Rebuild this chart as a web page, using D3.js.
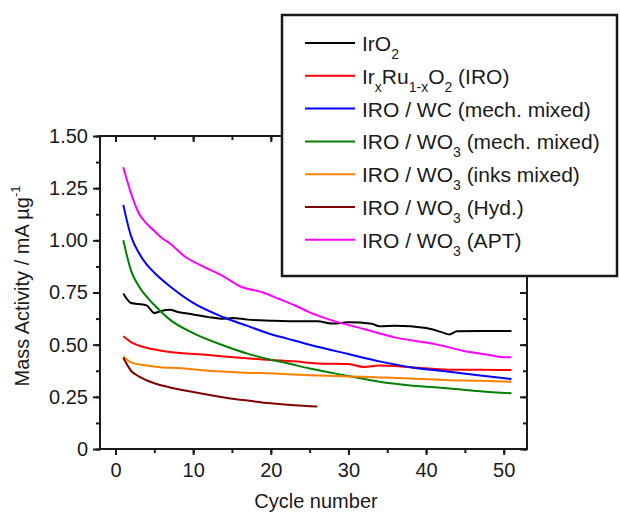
<!DOCTYPE html>
<html>
<head>
<meta charset="utf-8">
<script src="https://cdn.jsdelivr.net/npm/d3@7"></script>
<style>
  body { margin: 0; background: #fff; }
  svg text { font-family: "Liberation Sans", Arial, sans-serif; fill: #1a1a1a; }
</style>
</head>
<body>
<div id="chart"></div>
<script>
// values: [cycle, mass activity]
const IRO2 = [[1,0.745],[2,0.70],[3,0.695],[4,0.688],[5,0.652],[6,0.663],[7,0.667],[8,0.657],[10,0.645],[12,0.632],[14,0.624],[15,0.628],[17,0.62],[20,0.615],[23,0.612],[26,0.612],[28,0.601],[30,0.607],[33,0.6],[34,0.588],[36,0.591],[40,0.58],[42,0.56],[43,0.549],[44,0.564],[47,0.565],[51,0.565]];
const IRO = [[1,0.54],[2,0.512],[4,0.485],[7,0.465],[12,0.45],[14,0.443],[16,0.437],[20,0.427],[23,0.42],[26,0.41],[30,0.407],[32,0.393],[34,0.4],[38,0.392],[43,0.38],[47,0.38],[51,0.378]];
const IRO_WC = [[1,1.17],[2,1.02],[3,0.94],[4,0.885],[5,0.845],[7,0.78],[10,0.7],[14,0.63],[17,0.59],[20,0.55],[22,0.53],[25,0.5],[30,0.455],[34,0.42],[38,0.392],[43,0.37],[47,0.352],[51,0.336]];
const IRO_WO3_MECH = [[1,1.0],[2,0.855],[3,0.78],[4,0.73],[5,0.69],[7,0.62],[10,0.555],[14,0.495],[17,0.457],[20,0.428],[22,0.412],[25,0.386],[30,0.35],[34,0.322],[38,0.304],[43,0.29],[47,0.277],[51,0.267]];
const IRO_WO3_INKS = [[1,0.443],[2,0.415],[4,0.4],[6,0.391],[8,0.388],[12,0.375],[16,0.367],[21,0.361],[25,0.354],[30,0.348],[34,0.343],[38,0.338],[43,0.33],[47,0.327],[51,0.322]];
const IRO_WO3_HYD = [[1,0.437],[2,0.375],[3,0.348],[5,0.315],[7,0.295],[10,0.273],[14,0.247],[17,0.232],[20,0.219],[23,0.21],[26,0.204]];
const IRO_WO3_APT = [[1,1.35],[2,1.225],[3,1.13],[4,1.08],[5,1.045],[6,1.01],[7,0.985],[9,0.92],[11,0.88],[14,0.825],[16,0.78],[19,0.75],[21,0.72],[23,0.69],[25,0.655],[28,0.615],[32,0.575],[36,0.535],[40,0.51],[43,0.487],[45,0.468],[48,0.452],[50,0.44],[51,0.44]];

// legend labels as [text, subscript] pieces
const SERIES = [
    {data: IRO2, color: "#000000", label: [["IrO", "2"]]},
    {data: IRO, color: "#ff0000", label: [["Ir", "x"], ["Ru", "1-x"], ["O", "2"], [" (IRO)", ""]]},
    {data: IRO_WC, color: "#0000ff", label: [["IRO / WC (mech. mixed)", ""]]},
    {data: IRO_WO3_MECH, color: "#008000", label: [["IRO / WO", "3"], [" (mech. mixed)", ""]]},
    {data: IRO_WO3_INKS, color: "#ff8000", label: [["IRO / WO", "3"], [" (inks mixed)", ""]]},
    {data: IRO_WO3_HYD, color: "#800000", label: [["IRO / WO", "3"], [" (Hyd.)", ""]]},
    {data: IRO_WO3_APT, color: "#ff00ff", label: [["IRO / WO", "3"], [" (APT)", ""]]}
];

const X_TICKS = [0, 10, 20, 30, 40, 50];
const Y_TICKS = [0, 0.25, 0.5, 0.75, 1.0, 1.25, 1.5];

/* ---------------------------------- */
const W = 620, H = 513;
const PLOT = {left: 100, right: 527, top: 136, bottom: 449};
const SUB_DY = 8;

var x = d3.scaleLinear().domain([-2, 53]).range([PLOT.left, PLOT.right]);
var y = d3.scaleLinear().domain([0, 1.5]).range([PLOT.bottom, PLOT.top]);

var svg = d3.select("#chart").append("svg")
            .attr("width", W)
            .attr("height", H);

var xMinor = d3.range(0, 55, 5).filter((d) => d <= 53);
var yMinor = d3.range(0, 1.51, 0.125);

function styleAxis(g){
    g.select(".domain").remove();
    g.selectAll("line").attr("stroke", "#1a1a1a").attr("stroke-width", 2);
    g.selectAll("text").style("font-size", "20px").attr("fill", "#1a1a1a");
}

// minor ticks first, majors on top
svg.append("g")
   .attr("transform", "translate(0," + PLOT.bottom + ")")
   .call(d3.axisBottom(x).tickValues(xMinor).tickSize(4).tickFormat(""))
   .call(styleAxis);
svg.append("g")
   .attr("transform", "translate(0," + PLOT.bottom + ")")
   .call(d3.axisBottom(x).tickValues(X_TICKS).tickSize(6).tickPadding(8).tickFormat(d3.format("d")))
   .call(styleAxis);
svg.append("g")
   .attr("transform", "translate(" + PLOT.left + ",0)")
   .call(d3.axisLeft(y).tickValues(yMinor).tickSize(4).tickFormat(""))
   .call(styleAxis);
svg.append("g")
   .attr("transform", "translate(" + PLOT.left + ",0)")
   .call(d3.axisLeft(y).tickValues(Y_TICKS).tickSize(7).tickPadding(5)
           .tickFormat((d) => (d === 0 ? "0" : d3.format(".2f")(d))))
   .call(styleAxis);

// mirrored axes, ticks pointing inside
svg.append("g")
   .attr("transform", "translate(0," + PLOT.top + ")")
   .call(d3.axisBottom(x).tickValues(xMinor).tickSize(4).tickFormat(""))
   .call(styleAxis);
svg.append("g")
   .attr("transform", "translate(0," + PLOT.top + ")")
   .call(d3.axisBottom(x).tickValues(X_TICKS).tickSize(6).tickFormat(""))
   .call(styleAxis);
svg.append("g")
   .attr("transform", "translate(" + PLOT.right + ",0)")
   .call(d3.axisLeft(y).tickValues(yMinor).tickSize(4).tickFormat(""))
   .call(styleAxis);
svg.append("g")
   .attr("transform", "translate(" + PLOT.right + ",0)")
   .call(d3.axisLeft(y).tickValues(Y_TICKS).tickSize(7).tickFormat(""))
   .call(styleAxis);

svg.append("rect")
   .attr("x", PLOT.left)
   .attr("y", PLOT.top)
   .attr("width", PLOT.right - PLOT.left)
   .attr("height", PLOT.bottom - PLOT.top)
   .attr("fill", "none")
   .attr("stroke", "#1a1a1a")
   .attr("stroke-width", 2);

// series
var line = d3.line()
             .x((d) => x(d[0]))
             .y((d) => y(d[1]))
             .curve(d3.curveMonotoneX);
svg.append("g")
   .selectAll("path")
   .data(SERIES)
   .enter()
   .append("path")
   .attr("d", (d) => line(d.data))
   .attr("fill", "none")
   .attr("stroke", (d) => d.color)
   .attr("stroke-width", 2);

// axis titles
svg.append("text")
   .attr("x", 316)
   .attr("y", 508)
   .attr("text-anchor", "middle")
   .style("font-size", "20px")
   .text("Cycle number");
var yt = svg.append("text")
            .attr("transform", "translate(29,286) rotate(-90)")
            .attr("text-anchor", "middle")
            .style("font-size", "20px");
yt.append("tspan").text("Mass Activity / mA µg");
yt.append("tspan").attr("dy", -9).style("font-size", "13px").text("-1");

// legend
var lg = svg.append("g");
lg.append("rect")
  .attr("x", 282)
  .attr("y", 15)
  .attr("width", 335)
  .attr("height", 261)
  .attr("fill", "#fff")
  .attr("stroke", "#1a1a1a")
  .attr("stroke-width", 2.5);
var rows = lg.selectAll("g.row")
             .data(SERIES)
             .enter()
             .append("g")
             .classed("row", true)
             .attr("transform", (d,i) => ("translate(305," + (43 + i*32.8) + ")"));
rows.append("line")
    .attr("x1", 0)
    .attr("x2", 50)
    .attr("stroke", (d) => d.color)
    .attr("stroke-width", 2);
var lt = rows.append("text")
             .attr("x", 57)
             .attr("y", 8)
             .style("font-size", "21px");
lt.each(function(d){
    var t = d3.select(this);
    var lowered = false;
    d.label.forEach(function(p){
        t.append("tspan").attr("dy", lowered ? -SUB_DY : 0).text(p[0]);
        lowered = false;
        if (p[1]) {
            t.append("tspan").attr("dy", SUB_DY).style("font-size", "14px").text(p[1]);
            lowered = true;
        }
    });
});
</script>
</body>
</html>
